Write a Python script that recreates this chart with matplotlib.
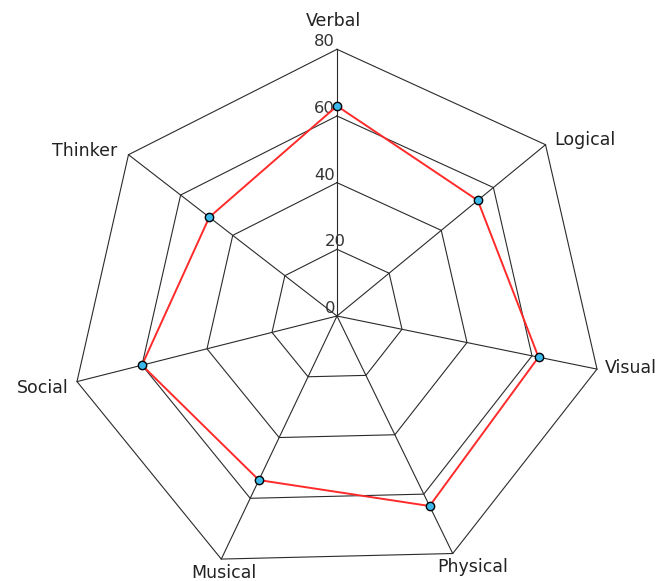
import matplotlib
matplotlib.use("Agg")
import matplotlib.pyplot as plt
import numpy as np

# Data
categories = ["Verbal", "Logical", "Visual", "Physical", "Musical", "Social", "Thinker"]
values = [63, 54, 62, 64, 54, 60, 49]
grid_levels = [0, 20, 40, 60, 80]
r_max = 80

# Style
font_lbl = 12.5
font_tick = 11.8
grid_col = "#2b2b2b"
line_col = "#ff2a2a"
mark_col = "#3cb8ea"
skew = 0.024   # the source chart is slightly sheared (left side sits lower)

n = len(categories)
ang = np.pi / 2 - 2 * np.pi * np.arange(n) / n

def to_xy(r, a):
    x = r * np.cos(a)
    y = r * np.sin(a) + skew * x
    return x, y

fig = plt.figure(figsize=(6.67, 5.81), dpi=100)
ax = fig.add_axes([0, 0, 1, 1])
scale = 266.7 / r_max   # pixels per unit
cx, cy = 337, 316
ax.set_xlim(-cx / scale, (667 - cx) / scale)
ax.set_ylim(-(581 - cy) / scale, cy / scale)
ax.axis("off")

# polygon grid
for lev in grid_levels[1:]:
    a = np.append(ang, ang[0])
    gx, gy = to_xy(lev, a)
    ax.plot(gx, gy, color=grid_col, lw=0.8, zorder=1)

# spokes
for a in ang:
    sx, sy = to_xy(np.array([0, r_max]), a)
    ax.plot(sx, sy, color=grid_col, lw=0.8, zorder=1)

# tick labels along Verbal axis
for lev in grid_levels:
    tx, ty = to_xy(lev, ang[0])
    if lev >= 40:
        ax.annotate(str(lev), (tx, ty), xytext=(-2, 0), textcoords="offset pixels",
                    ha="right", va="bottom", fontsize=font_tick, color="#333333", zorder=2)
    else:
        ax.annotate(str(lev), (tx, ty), xytext=(-12, 0), textcoords="offset pixels",
                    ha="left", va="bottom", fontsize=font_tick, color="#333333", zorder=2)

# category labels
lbl_style = [
    ((-4, 28), "center", "center"),
    ((9, 5), "left", "center"),
    ((8, 1), "left", "center"),
    ((20, -4), "center", "top"),
    ((3, -5), "center", "top"),
    ((-8, -6), "right", "center"),
    ((-11, 4), "right", "center"),
]
for i, cat in enumerate(categories):
    lx, ly = to_xy(r_max, ang[i])
    off, ha, va = lbl_style[i]
    ax.annotate(cat, (lx, ly), xytext=off, textcoords="offset pixels",
                ha=ha, va=va, fontsize=font_lbl, color="#222222")

# data series
v = np.array(values + values[:1])
a = np.append(ang, ang[0])
dx, dy = to_xy(v, a)
ax.plot(dx, dy, color=line_col, lw=1.4, zorder=3)
ax.plot(dx[:-1], dy[:-1], "o", ms=6, mfc=mark_col, mec="black", mew=1.0, zorder=4)

fig.savefig("out.png", dpi=100)
